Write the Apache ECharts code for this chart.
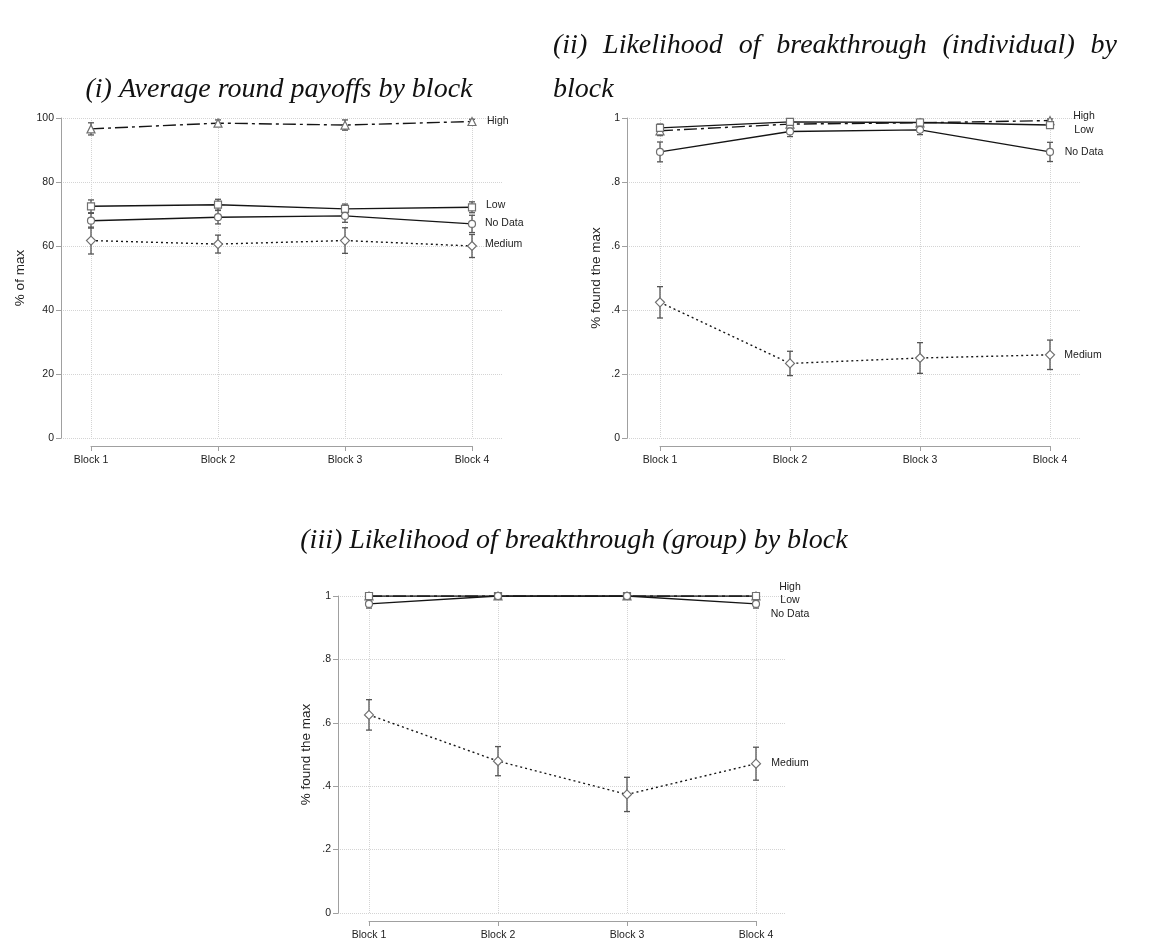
<!DOCTYPE html>
<html>
<head>
<meta charset="utf-8">
<script src="https://cdn.jsdelivr.net/npm/echarts@6/dist/echarts.min.js"></script>
<style>
  html, body { margin: 0; padding: 0; background: #fff; }
  #main { width: 1159px; height: 942px; }
</style>
</head>
<body>
<div id="main"></div>
<script>
// categories
const blocks = ['Block 1', 'Block 2', 'Block 3', 'Block 4'];

// (i) average round payoffs, % of max (mean and half-width of CI)
const payHigh = [96.6, 98.4, 97.8, 98.9];
const payHighErr = [1.9, 1.0, 1.6, 0.7];
const payLow = [72.4, 72.9, 71.6, 72.1];
const payLowErr = [2.0, 1.7, 1.5, 1.7];
const payNoData = [67.9, 69.0, 69.4, 66.9];
const payNoDataErr = [2.3, 2.1, 2.0, 2.7];
const payMedium = [61.7, 60.6, 61.7, 60.0];
const payMediumErr = [4.2, 2.8, 4.0, 3.6];

// (ii) share that found the max, individual
const indHigh = [0.960, 0.981, 0.985, 0.992];
const indHighErr = [0.015, 0.008, 0.008, 0.005];
const indLow = [0.969, 0.988, 0.986, 0.978];
const indLowErr = [0.012, 0.008, 0.010, 0.010];
const indNoData = [0.894, 0.958, 0.963, 0.894];
const indNoDataErr = [0.031, 0.016, 0.015, 0.030];
const indMedium = [0.424, 0.233, 0.250, 0.260];
const indMediumErr = [0.049, 0.038, 0.048, 0.046];

// (iii) share that found the max, group
const grpHigh = [1, 1, 1, 1];
const grpHighErr = [0, 0, 0, 0];
const grpLow = [1, 1, 1, 1];
const grpLowErr = [0, 0, 0, 0];
const grpNoData = [0.975, 1, 1, 0.975];
const grpNoDataErr = [0.013, 0, 0, 0.013];
const grpMedium = [0.625, 0.479, 0.374, 0.471];
const grpMediumErr = [0.048, 0.046, 0.054, 0.052];

const sans = '"Liberation Sans", Arial, sans-serif';
const serif = '"Liberation Serif", "Times New Roman", serif';
const axisGray = '#a0a0a0';
const gridGray = '#d4d4d4';

// marker / line look per treatment
const looks = {
    'High':    { symbol: 'triangle', size: 8, dash: [13, 4, 3, 4] },
    'Low':     { symbol: 'rect',     size: 7, dash: 'solid' },
    'No Data': { symbol: 'circle',   size: 7, dash: 'solid' },
    'Medium':  { symbol: 'diamond',  size: 9, dash: [2, 3] }
};

const grids = [], xAxes = [], yAxes = [], series = [];

function decimalFmt(v) {
    if (v === 0) return '0';
    if (v === 1) return '1';
    return String(+v.toFixed(1)).replace(/^0/, '');
}

function addPanel(p) {
    const a = grids.length, b = a + 1;
    // outer grid: y axis + horizontal grid lines
    grids.push({ left: p.axisX, top: p.top, width: p.outerRight - p.axisX, height: p.bottom - p.top, outerBoundsMode: 'none' });
    // inner grid: blocks from first to last tick
    grids.push({ left: p.firstX, top: p.top, width: p.lastX - p.firstX, height: p.bottom - p.top, outerBoundsMode: 'none' });

    xAxes.push({ gridIndex: a, type: 'value', min: 0, max: 1, show: false });
    yAxes.push({
        gridIndex: a, type: 'value', min: p.yMin, max: p.yMax, interval: p.yInterval,
        axisLine: { show: true, onZero: false, lineStyle: { color: axisGray } },
        axisTick: { show: true, length: 5, lineStyle: { color: axisGray } },
        axisLabel: { color: '#222', fontSize: 10.5, fontFamily: sans, margin: 7, formatter: p.fmt },
        splitLine: { show: true, lineStyle: { color: gridGray, type: 'dotted' } },
        name: p.yName, nameLocation: 'middle', nameGap: p.nameGap,
        nameTextStyle: { color: '#222', fontSize: 13.5, fontFamily: sans }
    });

    xAxes.push({
        gridIndex: b, type: 'category', data: blocks, boundaryGap: false, offset: 8,
        axisLine: { show: true, onZero: false, lineStyle: { color: axisGray } },
        axisTick: { show: true, length: 5, lineStyle: { color: axisGray } },
        axisLabel: { color: '#222', fontSize: 10.5, fontFamily: sans, margin: 9 },
        splitLine: { show: true, lineStyle: { color: gridGray, type: 'dotted' } }
    });
    yAxes.push({ gridIndex: b, type: 'value', min: p.yMin, max: p.yMax, show: false });

    p.lines.forEach(s => {
        const look = looks[s.name];
        series.push({
            type: 'custom', xAxisIndex: b, yAxisIndex: b, silent: true, z: 1,
            data: s.values.map((v, i) => [i, v - s.errs[i], v + s.errs[i]]),
            encode: { x: 0, y: [1, 2] },
            renderItem: (params, api) => {
                const lo = api.coord([api.value(0), api.value(1)]);
                const hi = api.coord([api.value(0), api.value(2)]);
                if (Math.abs(lo[1] - hi[1]) < 0.5) return null;
                const w = 3, st = { stroke: '#555', lineWidth: 1.3 };
                return {
                    type: 'group', children: [
                        { type: 'line', shape: { x1: lo[0], y1: lo[1], x2: hi[0], y2: hi[1] }, style: st },
                        { type: 'line', shape: { x1: lo[0] - w, y1: lo[1], x2: lo[0] + w, y2: lo[1] }, style: st },
                        { type: 'line', shape: { x1: hi[0] - w, y1: hi[1], x2: hi[0] + w, y2: hi[1] }, style: st }
                    ]
                };
            }
        });
        series.push({
            type: 'line', name: s.name, xAxisIndex: b, yAxisIndex: b, data: s.values,
            symbol: look.symbol, symbolSize: look.size, showAllSymbol: true, silent: true, z: 2,
            itemStyle: { color: '#fff', borderColor: '#707070', borderWidth: 1.2 },
            lineStyle: { color: '#151515', width: 1.4, type: look.dash },
            endLabel: {
                show: true, formatter: s.name, color: '#222', fontSize: 10.5, fontFamily: sans,
                distance: 0, offset: s.offset, align: p.labelAlign
            }
        });
    });
}

addPanel({
    axisX: 61, firstX: 91, lastX: 472, outerRight: 502, top: 118, bottom: 438,
    yMin: 0, yMax: 100, yInterval: 20, fmt: v => String(v), yName: '% of max', nameGap: 34,
    labelAlign: 'left',
    lines: [
        { name: 'High', values: payHigh, errs: payHighErr, offset: [15, 0] },
        { name: 'Low', values: payLow, errs: payLowErr, offset: [14, -2] },
        { name: 'No Data', values: payNoData, errs: payNoDataErr, offset: [13, -1] },
        { name: 'Medium', values: payMedium, errs: payMediumErr, offset: [13, -2] }
    ]
});

addPanel({
    axisX: 627, firstX: 660, lastX: 1050, outerRight: 1080, top: 118, bottom: 438,
    yMin: 0, yMax: 1, yInterval: 0.2, fmt: decimalFmt, yName: '% found the max', nameGap: 24,
    labelAlign: 'center',
    lines: [
        { name: 'High', values: indHigh, errs: indHighErr, offset: [34, -4] },
        { name: 'Low', values: indLow, errs: indLowErr, offset: [34, 5] },
        { name: 'No Data', values: indNoData, errs: indNoDataErr, offset: [34, 0] },
        { name: 'Medium', values: indMedium, errs: indMediumErr, offset: [33, 0] }
    ]
});

addPanel({
    axisX: 338, firstX: 369, lastX: 756, outerRight: 785, top: 596, bottom: 913,
    yMin: 0, yMax: 1, yInterval: 0.2, fmt: decimalFmt, yName: '% found the max', nameGap: 25,
    labelAlign: 'center',
    lines: [
        { name: 'High', values: grpHigh, errs: grpHighErr, offset: [34, -9] },
        { name: 'Low', values: grpLow, errs: grpLowErr, offset: [34, 4] },
        { name: 'No Data', values: grpNoData, errs: grpNoDataErr, offset: [34, 10] },
        { name: 'Medium', values: grpMedium, errs: grpMediumErr, offset: [34, -1] }
    ]
});

// titles; the first line of (ii) is justified between two edges
function titleText(text, x, y, align) {
    return {
        type: 'text', x: x, y: y, silent: true,
        style: { text: text, fill: '#111', fontSize: 28, fontFamily: serif, fontStyle: 'italic', align: align, verticalAlign: 'middle' }
    };
}

function justified(words, left, right, y) {
    const ctx = document.createElement('canvas').getContext('2d');
    ctx.font = 'italic 28px ' + serif;
    const widths = words.map(w => ctx.measureText(w).width);
    const gap = (right - left - widths.reduce((s, w) => s + w, 0)) / (words.length - 1);
    let x = left;
    return words.map((w, i) => {
        const el = titleText(w, x, y, 'left');
        x += widths[i] + gap;
        return el;
    });
}

const graphics = [
    titleText('(i) Average round payoffs by block', 279, 90, 'center'),
    ...justified(['(ii)', 'Likelihood', 'of', 'breakthrough', '(individual)', 'by'], 553, 1117, 46),
    titleText('block', 553, 90, 'left'),
    titleText('(iii) Likelihood of breakthrough (group) by block', 574, 541, 'center')
];

const chart = echarts.init(document.getElementById('main'));
chart.setOption({
    backgroundColor: '#fff',
    animation: false,
    grid: grids,
    xAxis: xAxes,
    yAxis: yAxes,
    series: series,
    graphic: graphics
});
</script>
</body>
</html>
